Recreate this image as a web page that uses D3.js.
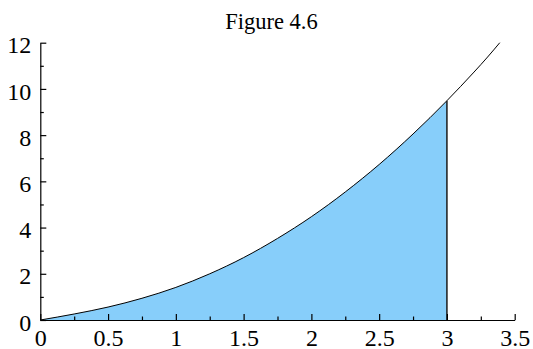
<!DOCTYPE html>
<html>
<head>
<meta charset="utf-8">
<script src="https://cdn.jsdelivr.net/npm/d3@7"></script>
<style>
  body { margin: 0; background: #fff; }
  svg text { font-family: "Liberation Serif", "Times New Roman", serif; fill: #000; }
</style>
</head>
<body>
<div id="chart"></div>
<script>
// curve values
const xs = [0, 0.25, 0.5, 0.75, 1, 1.25, 1.5, 1.75, 2, 2.25, 2.5, 2.75, 3, 3.1, 3.2, 3.3, 3.39];
const ys = [0, 0.26, 0.56, 0.94, 1.41, 2.0, 2.7, 3.53, 4.47, 5.54, 6.73, 8.05, 9.49, 10.1, 10.73, 11.38, 12.0];
const shadeEnd = 3;
const xTicks = [0, 0.5, 1, 1.5, 2, 2.5, 3, 3.5];
const xMinor = [0.25, 0.75, 1.25, 1.75, 2.25, 2.75, 3.25];
const yTicks = [0, 2, 4, 6, 8, 10, 12];
const yMinor = [1, 3, 5, 7, 9, 11];
const title = 'Figure 4.6';

const width = 533;
const height = 349;
const margin = { top: 42.7, right: 18.3, bottom: 29, left: 40.3 };

const pts = xs.map((x, i) => ({ x, y: ys[i] }));

const svg = d3.select('#chart')
  .append('svg')
  .attr('width', width)
  .attr('height', height);

const xScale = d3.scaleLinear()
  .domain([0, 3.5])
  .range([margin.left, width - margin.right]);

const yScale = d3.scaleLinear()
  .domain([0, 12])
  .range([height - margin.bottom, margin.top]);

// shaded area up to x = 3
const area = d3.area()
  .x(d => xScale(d.x))
  .y0(yScale(0))
  .y1(d => yScale(d.y))
  .curve(d3.curveMonotoneX);

svg.append('path')
  .datum(pts.filter(d => d.x <= shadeEnd))
  .attr('d', area)
  .attr('fill', '#87cefa');

const line = d3.line()
  .x(d => xScale(d.x))
  .y(d => yScale(d.y))
  .curve(d3.curveMonotoneX);

svg.append('path')
  .datum(pts)
  .attr('d', line)
  .attr('fill', 'none')
  .attr('stroke', '#000')
  .attr('stroke-width', 1);

const endPt = pts.find(d => d.x === shadeEnd);
svg.append('line')
  .attr('x1', xScale(shadeEnd))
  .attr('x2', xScale(shadeEnd))
  .attr('y1', yScale(0))
  .attr('y2', yScale(endPt.y))
  .attr('stroke', '#1a1a1a')
  .attr('stroke-width', 1.5);

// axes
const x0 = height - margin.bottom;

svg.append('g')
  .attr('transform', `translate(0, ${x0})`)
  .call(d3.axisBottom(xScale).tickValues(xMinor).tickSize(-3.5).tickSizeOuter(0).tickFormat(''))
  .call(g => g.select('.domain').remove());

svg.append('g')
  .attr('transform', `translate(0, ${x0})`)
  .call(d3.axisBottom(xScale).tickValues(xTicks).tickSize(-6).tickSizeOuter(0).tickPadding(9).tickFormat(d3.format('')))
  .call(g => g.selectAll('text').style('font-size', '24px'));

svg.append('g')
  .attr('transform', `translate(${margin.left}, 0)`)
  .call(d3.axisLeft(yScale).tickValues(yMinor).tickSize(-3.5).tickSizeOuter(0).tickFormat(''))
  .call(g => g.select('.domain').remove());

svg.append('g')
  .attr('transform', `translate(${margin.left}, 0)`)
  .call(d3.axisLeft(yScale).tickValues(yTicks).tickSize(-6).tickSizeOuter(0).tickPadding(9))
  .call(g => g.selectAll('text').attr('dy', '0.42em').style('font-size', '24px'));

svg.selectAll('.domain, .tick line')
  .attr('stroke', '#000')
  .attr('stroke-width', 1.2);

svg.append('text')
  .attr('x', 271.5)
  .attr('y', 29)
  .attr('text-anchor', 'middle')
  .style('font-size', '22.5px')
  .text(title);
</script>
</body>
</html>
